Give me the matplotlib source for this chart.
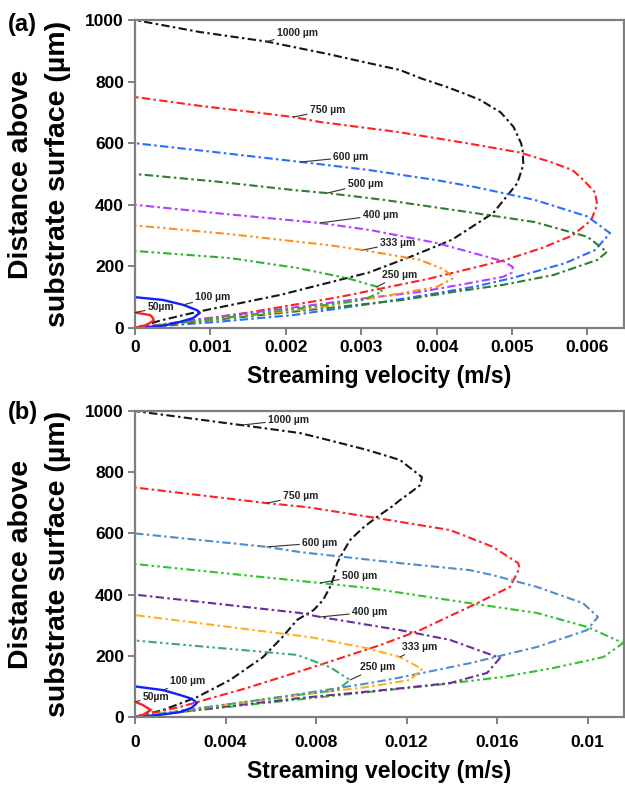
import matplotlib.pyplot as plt

# ---- panel (a): height above substrate (um) vs streaming velocity (m/s)
a_z1000 = [0, 25, 52, 107, 180, 231, 286, 373, 470, 530, 578, 600, 653, 700, 740, 760, 783, 810, 838, 860, 890,
           930, 961, 1000]
a_u1000 = [0, 0.00035, 0.00082, 0.00192, 0.0031, 0.00365, 0.0042, 0.00475, 0.00507, 0.00515, 0.00514, 0.00512,
           0.00502, 0.00485, 0.00458, 0.00438, 0.00413, 0.0038, 0.00351, 0.0031, 0.00255, 0.00175, 0.00086, 0]
a_z750 = [0, 25, 50, 75, 100, 130, 160, 190, 220, 260, 300, 350, 400, 440, 480, 513, 540, 570, 600, 636, 669,
          685, 700, 720, 750]
a_u750 = [0, 0.0008, 0.0015, 0.0021, 0.0027, 0.0033, 0.0039, 0.0044, 0.0049, 0.0054, 0.0058, 0.00605, 0.00613,
          0.0061, 0.00595, 0.0058, 0.0055, 0.0051, 0.0044, 0.0035, 0.00245, 0.0021, 0.0016, 0.0009, 0]
a_z600 = [0, 20, 42, 81, 113, 134, 162, 210, 253, 308, 362, 416, 458, 480, 513, 539, 570, 600]
a_u600 = [0, 0.0011, 0.0021, 0.0032, 0.004, 0.0045, 0.005, 0.0057, 0.0061, 0.0063, 0.006, 0.0053, 0.0045, 0.004,
          0.0031, 0.0022, 0.0011, 0]
a_z500 = [0, 20, 45, 91, 117, 140, 172, 221, 247, 296, 344, 377, 416, 438, 448, 475, 500]
a_u500 = [0, 0.0008, 0.0018, 0.00355, 0.00422, 0.00488, 0.00555, 0.00613, 0.00626, 0.006, 0.0053, 0.0044,
          0.0033, 0.00255, 0.0021, 0.0011, 0]
a_z400 = [0, 30, 60, 95, 117, 146, 166, 180, 198, 215, 231, 276, 318, 341, 370, 400]
a_u400 = [0, 0.0009, 0.0019, 0.003, 0.00378, 0.00444, 0.00488, 0.005, 0.00501, 0.0049, 0.00467, 0.004, 0.00312,
          0.00245, 0.0012, 0]
a_z333 = [0, 30, 65, 114, 133, 162, 190, 221, 253, 268, 305, 333]
a_u333 = [0, 0.0011, 0.0024, 0.00355, 0.004, 0.00422, 0.0041, 0.00378, 0.00302, 0.0026, 0.00125, 0]
a_z250 = [0, 45, 91, 118, 134, 162, 195, 227, 250]
a_u250 = [0, 0.0016, 0.00302, 0.00328, 0.00321, 0.00281, 0.00215, 0.00126, 0]
a_z100 = [0, 7, 20, 32, 49, 58, 75, 91, 100]
a_u100 = [0, 0.00037, 0.0006, 0.00077, 0.00086, 0.00082, 0.00064, 0.00037, 0]
a_z50 = [0, 10, 25, 35, 42, 50]
a_u50 = [0, 0.00016, 0.00025, 0.00023, 0.0002, 0]

# ---- panel (b)
b_z1000 = [0, 23, 65, 121, 196, 260, 317, 350, 382, 425, 460, 503, 540, 578, 620, 654, 690, 709, 735, 758, 784,
           840, 873, 912, 928, 954, 1000]
b_u1000 = [0, 0.00124, 0.00274, 0.0042, 0.00566, 0.0065, 0.00716, 0.0079, 0.00831, 0.00862, 0.0088, 0.00893,
           0.0092, 0.0095, 0.0101, 0.0107, 0.0114, 0.01171, 0.0122, 0.0126, 0.01268, 0.01171, 0.01025, 0.00818,
           0.00729, 0.0047, 0]
b_z750 = [0, 33, 95, 163, 235, 284, 372, 425, 487, 503, 556, 611, 650, 686, 699, 750]
b_u750 = [0, 0.00199, 0.00495, 0.00787, 0.01083, 0.0126, 0.01512, 0.01657, 0.017, 0.01693, 0.01582, 0.01392,
          0.0107, 0.0076, 0.00583, 0]
b_z600 = [0, 49, 82, 111, 131, 176, 229, 284, 327, 372, 425, 464, 480, 503, 539, 556, 600]
b_u600 = [0, 0.00495, 0.00787, 0.01039, 0.01185, 0.0148, 0.01777, 0.01998, 0.02046, 0.0198, 0.01777, 0.0158,
          0.0148, 0.01171, 0.00729, 0.00583, 0]
b_z500 = [0, 40, 82, 105, 131, 160, 196, 242, 294, 340, 372, 421, 438, 500]
b_u500 = [0, 0.005, 0.01039, 0.01335, 0.01627, 0.01848, 0.0207, 0.02157, 0.02, 0.01777, 0.0148, 0.01039, 0.00818, 0]
b_z400 = [0, 62, 88, 111, 144, 193, 252, 284, 327, 340, 400]
b_u400 = [0, 0.00729, 0.01096, 0.01392, 0.01556, 0.01613, 0.01392, 0.01171, 0.00818, 0.00729, 0]
b_z333 = [0, 72, 98, 121, 157, 196, 225, 261, 333]
b_u333 = [0, 0.00729, 0.01025, 0.01215, 0.01268, 0.01171, 0.01025, 0.00775, 0]
b_z250 = [0, 65, 88, 121, 163, 203, 250]
b_u250 = [0, 0.00641, 0.00893, 0.0095, 0.00862, 0.00716, 0]
b_z100 = [0, 8, 16, 30, 46, 60, 72, 88, 100]
b_u100 = [0, 0.0012, 0.00199, 0.0025, 0.00274, 0.0025, 0.00199, 0.00124, 0]
b_z50 = [0, 7, 23, 39, 50]
b_u50 = [0, 0.00035, 0.0007, 0.00035, 0]

a_xticks = [0, 0.001, 0.002, 0.003, 0.004, 0.005, 0.006]
a_xlabels = ['0', '0.001', '0.002', '0.003', '0.004', '0.005', '0.006']
b_xticks = [0, 0.004, 0.008, 0.012, 0.016, 0.020]
b_xlabels = ['0', '0.004', '0.008', '0.012', '0.016', '0.01']
yticks = [0, 200, 400, 600, 800, 1000]

MAIN = ['Liberation Sans', 'DejaVu Sans']
NARROW = ['Liberation Sans Narrow', 'Liberation Sans', 'DejaVu Sans']
DD = (0, (4, 1.6, 1.2, 1.6))              # dash-dot
DDD = (0, (4, 1.6, 1.2, 1.6, 1.2, 1.6))   # dash-dot-dot


def style_axes(ax, xmax, xticks, xlabels, xpad):
    ax.set_xlim(0, xmax)
    ax.set_ylim(0, 1000)
    ax.set_xticks(xticks)
    ax.set_xticklabels(xlabels)
    ax.set_yticks(yticks)
    for s in ax.spines.values():
        s.set_color('#7f7f7f')
        s.set_linewidth(1.6)
    ax.tick_params(color='#7f7f7f', width=1.4, length=5, labelsize=12.5, pad=3)
    ax.tick_params(axis='x', pad=xpad)
    for t in ax.get_xticklabels() + ax.get_yticklabels():
        t.set_fontweight('bold')
        t.set_family(MAIN)
    ax.set_xlabel('Streaming velocity (m/s)', fontsize=16.5, fontweight='bold', family=MAIN, labelpad=7)


def draw_panel(ax, curves, labels):
    for z, u, col, ls, lw in curves:
        ax.plot(u, z, color=col, linestyle=ls, linewidth=lw, solid_capstyle='round')
    for txt, (z, u), i, tx, ty in labels:
        ax.annotate(txt, xy=(u[i], z[i]), xytext=(tx, ty), textcoords='data',
                    ha='left', va='center', fontsize=7.5, fontweight='bold', family=NARROW,
                    color='#222222',
                    arrowprops=dict(arrowstyle='-', color='#333333', lw=0.8, shrinkA=0, shrinkB=0))


fig = plt.figure(figsize=(6.25, 7.85), dpi=100)
ax_a = fig.add_axes([0.216, 0.5822, 0.7824, 0.3923])
ax_b = fig.add_axes([0.216, 0.0866, 0.7824, 0.3898])

curves_a = [
    (a_z1000, a_u1000, '#151515', DD, 1.5),
    (a_z750, a_u750, '#ff2020', DD, 1.5),
    (a_z600, a_u600, '#2a6cff', DD, 1.5),
    (a_z500, a_u500, '#2e7d32', DD, 1.5),
    (a_z400, a_u400, '#b040ff', DD, 1.5),
    (a_z333, a_u333, '#ff9020', DDD, 1.5),
    (a_z250, a_u250, '#30b030', DDD, 1.5),
    (a_z100, a_u100, '#1020ff', '-', 1.7),
    (a_z50, a_u50, '#ff2020', '-', 1.7),
]
labels_a = [
    ('1000 µm', (a_z1000, a_u1000), 21, 0.00188, 958),
    ('750 µm', (a_z750, a_u750), 21, 0.00232, 708),
    ('600 µm', (a_z600, a_u600), 15, 0.00263, 555),
    ('500 µm', (a_z500, a_u500), 13, 0.00282, 468),
    ('400 µm', (a_z400, a_u400), 13, 0.00302, 367),
    ('333 µm', (a_z333, a_u333), 8, 0.00325, 276),
    ('250 µm', (a_z250, a_u250), 4, 0.00328, 172),
    ('100 µm', (a_z100, a_u100), 6, 0.0008, 101),
    ('50µm', (a_z50, a_u50), 5, 0.00017, 68),
]
draw_panel(ax_a, curves_a, labels_a)
style_axes(ax_a, 0.006485, a_xticks, a_xlabels, 4)

curves_b = [
    (b_z1000, b_u1000, '#151515', DD, 1.5),
    (b_z750, b_u750, '#ff2020', DD, 1.5),
    (b_z600, b_u600, '#4a8fd0', DD, 1.5),
    (b_z500, b_u500, '#30c030', DDD, 1.5),
    (b_z400, b_u400, '#6a2c9a', DD, 1.5),
    (b_z333, b_u333, '#ffb020', DD, 1.5),
    (b_z250, b_u250, '#40a870', DDD, 1.5),
    (b_z100, b_u100, '#1020ff', '-', 1.7),
    (b_z50, b_u50, '#ff2020', '-', 1.7),
]
labels_b = [
    ('1000 µm', (b_z1000, b_u1000), 25, 0.00588, 971),
    ('750 µm', (b_z750, b_u750), 14, 0.00654, 722),
    ('600 µm', (b_z600, b_u600), 15, 0.00738, 569),
    ('500 µm', (b_z500, b_u500), 12, 0.00915, 461),
    ('400 µm', (b_z400, b_u400), 8, 0.00959, 343),
    ('333 µm', (b_z333, b_u333), 5, 0.0118, 229),
    ('250 µm', (b_z250, b_u250), 3, 0.00994, 163),
    ('100 µm', (b_z100, b_u100), 7, 0.00155, 118),
    ('50µm', (b_z50, b_u50), 4, 0.00035, 65),
]
draw_panel(ax_b, curves_b, labels_b)
style_axes(ax_b, 0.02161, b_xticks, b_xlabels, 8)

# two-line y labels and panel letters
for yc in (1 - 174 / 785, 1 - 564 / 785):
    fig.text(21.5 / 625, yc, 'Distance above', rotation=90, ha='center', va='center',
             fontsize=20.5, fontweight='bold', family=MAIN)
    fig.text(58 / 625, yc, 'substrate surface (µm)', rotation=90, ha='center', va='center',
             fontsize=20.5, fontweight='bold', family=MAIN)
fig.text(8 / 625, 1 - 24 / 785, '(a)', ha='left', va='center', fontsize=17, fontweight='bold', family=MAIN)
fig.text(8 / 625, 1 - 413 / 785, '(b)', ha='left', va='center', fontsize=17, fontweight='bold', family=MAIN)

fig.savefig('out.png', dpi=100)
